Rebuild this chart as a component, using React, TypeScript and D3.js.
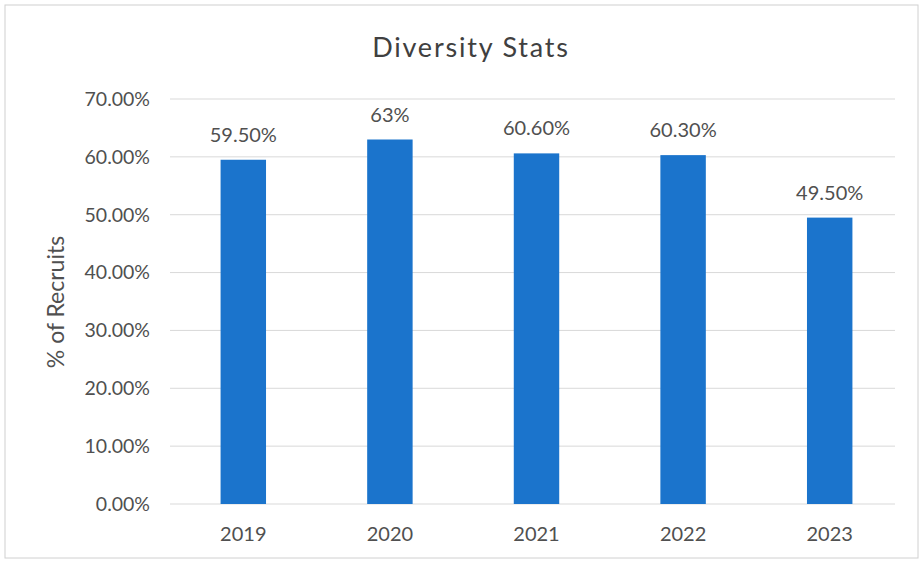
import React from "react";
import * as d3 from "d3";

const years = ["2019", "2020", "2021", "2022", "2023"];
const values = [0.595, 0.63, 0.606, 0.603, 0.495];
const valueLabels = ["59.50%", "63%", "60.60%", "60.30%", "49.50%"];
const yTicks = [0, 0.1, 0.2, 0.3, 0.4, 0.5, 0.6, 0.7];

const W = 923;
const H = 562;
const FONT = "Lato, 'Open Sans', 'Liberation Sans', sans-serif";
const TEXT = "#505050";

export default function App() {
  const x = d3
    .scaleBand<string>()
    .domain(years)
    .range([170, 903])
    .paddingInner(0.69)
    .paddingOuter(0.345);
  const y = d3.scaleLinear().domain([0, 0.7]).range([504, 99]);
  const fmt = d3.format(".2%");

  return (
    <svg
      width={W}
      height={H}
      style={{ position: "absolute", left: 0, top: 0, background: "#fff" }}
      fontFamily={FONT}
    >
      <rect x={5} y={5} width={913} height={553} fill="#fff" stroke="#d0d0d0" strokeWidth={1} />
      <text x={471} y={57} textAnchor="middle" fontSize={27} letterSpacing={1.8} fill="#404040">
        Diversity Stats
      </text>
      {yTicks.map((t) => (
        <g key={t}>
          <line x1={170} x2={895} y1={y(t)} y2={y(t)} stroke="#d9d9d9" strokeWidth={1} />
          <text x={150} y={y(t)} dy="0.35em" textAnchor="end" fontSize={19.5} fill={TEXT}>
            {fmt(t)}
          </text>
        </g>
      ))}
      <text
        transform={`translate(64,302) rotate(-90)`}
        textAnchor="middle"
        fontSize={23}
        fill={TEXT}
      >
        % of Recruits
      </text>
      {years.map((yr, i) => {
        const bx = x(yr)!;
        const bw = x.bandwidth();
        return (
          <g key={yr}>
            <rect x={bx} y={y(values[i])} width={bw} height={y(0) - y(values[i])} fill="#1b74cc" />
            <text
              x={bx + bw / 2}
              y={y(values[i]) - 18}
              textAnchor="middle"
              fontSize={20}
              fill={TEXT}
            >
              {valueLabels[i]}
            </text>
            <text x={bx + bw / 2} y={541} textAnchor="middle" fontSize={20} fill={TEXT}>
              {yr}
            </text>
          </g>
        );
      })}
    </svg>
  );
}
